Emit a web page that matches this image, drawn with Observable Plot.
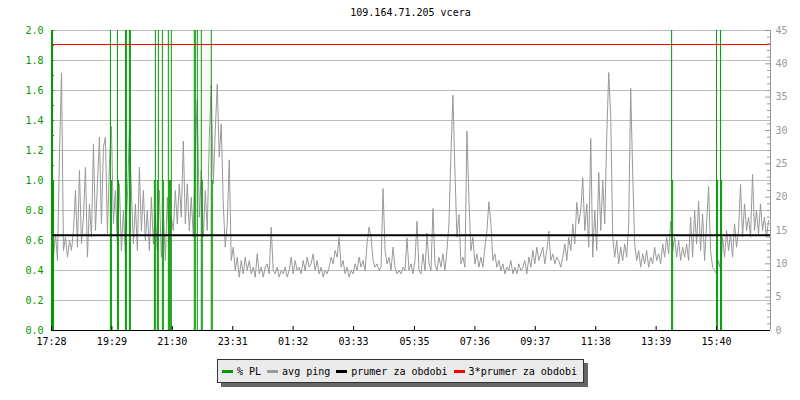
<!DOCTYPE html>
<html>
<head>
<meta charset="utf-8">
<script src="https://cdn.jsdelivr.net/npm/d3@7"></script>
<script src="https://cdn.jsdelivr.net/npm/@observablehq/plot@0.6"></script>
<style>
  html, body { margin: 0; padding: 0; background: #fff; }
  #wrap { position: relative; width: 800px; height: 400px; font-family: "DejaVu Sans Mono", monospace; font-size: 10px; }
  #title { position: absolute; left: 51px; width: 719px; top: 7px; text-align: center; line-height: 12px; color: #000; }
  #chart { position: absolute; left: 0; top: 0; }
  #legend { position: absolute; left: 217px; top: 359px; width: 361px; height: 22px; background: #ebebeb; border: 1px solid #333;
            box-shadow: 4px 4px 0 #666; display: flex; align-items: center; padding-left: 4px; box-sizing: content-box; }
  .item { display: flex; align-items: center; margin-right: 6px; white-space: pre; }
  .sw { width: 11px; height: 3px; margin-right: 4px; }
</style>
</head>
<body>
<div id="wrap">
  <div id="chart"></div>
  <div id="title"></div>
  <div id="legend"></div>
</div>
<script>
// ---- data ----
const titleText = "109.164.71.205 vcera";
const pingStart = "17:28";
const pingStepMinutes = 4;
const pingValues = [
  13, 11, 14.5, 10.5, 26.5, 38.6, 12, 14, 11, 13.5,
  12, 15, 21, 12.5, 24, 13, 17, 24.5, 11, 19,
  14, 28, 15, 22, 29, 16, 27.5, 29, 14.5, 25,
  30.6, 16, 21, 13, 22, 12, 18, 11.5, 20, 30,
  21, 13, 19, 12, 24.5, 15, 21, 13.5, 18, 12,
  20, 13, 17.5, 12, 21, 11, 18, 10.5, 20, 13,
  17, 15, 21, 16, 22, 17, 28.4, 16, 22, 15,
  20, 14, 27, 34.6, 17, 24, 14, 21, 15, 28.8,
  36.8, 22, 30, 37, 26, 31, 19, 12.5, 16, 25.6,
  10.5, 12.5, 9, 11, 8, 10.5, 8.5, 11, 9, 10.5,
  8.5, 9.5, 8, 11.5, 8.5, 9.5, 8, 9.5, 10, 8.5,
  15.5, 9, 8.5, 9.5, 8, 9, 8.5, 9.5, 8, 9,
  11, 8.5, 10.5, 9, 9.5, 8.5, 10.5, 9, 11, 9.5,
  10, 11.5, 9, 10.5, 8.5, 9.5, 8, 9, 8.5, 9.5,
  11, 10, 12, 11, 14, 9.5, 10.5, 8.5, 9.5, 8,
  9, 8.5, 10, 9, 11, 9.5, 10.5, 9, 13, 15.5,
  14, 10.5, 9.5, 10, 9, 9.5, 21.3, 12, 10, 11,
  9, 12.5, 9.5, 8.5, 9, 8.5, 9.5, 9, 13.9, 9,
  10, 8.5, 10.5, 16.4, 9, 8.5, 11.5, 9, 14.6, 10,
  9, 18.3, 10, 9, 11, 9.5, 11.5, 9, 12, 16,
  26.5, 35.3, 23.9, 14, 17.4, 10, 11, 9.5, 29.9, 19.7,
  12, 14, 10, 11.5, 9.5, 11, 9.5, 12.5, 15, 19.3,
  16, 10.5, 11.5, 9.5, 10.5, 9, 10, 8.5, 9.5, 9,
  10.5, 8.5, 9.5, 8.5, 10, 9, 9.5, 10.5, 8.5, 11,
  9.5, 12, 10, 12.5, 10.5, 11.5, 12.5, 10, 12, 14.9,
  10.5, 11.5, 10, 11, 10.5, 9.5, 11, 13, 10.5, 14,
  12, 16, 13, 19.2, 16, 18, 22.9, 15, 19, 12.5,
  28.8, 11, 18, 12, 23.7, 15, 22.5, 16, 29.1, 38.7,
  32, 14, 11, 13.5, 10, 12.5, 10.5, 13, 11, 16,
  36.3, 23.5, 13, 10.5, 12, 9.5, 11.5, 10, 12, 9.5,
  11, 10, 12.5, 10.5, 11.5, 10, 13, 11, 14, 11.5,
  16.4, 12, 14, 11, 13.5, 10.5, 12.5, 11, 13, 10.5,
  17, 11, 18, 13, 19.4, 12, 17.5, 10.5, 16, 21.6,
  12, 9.5, 9, 8.5, 10.5, 9, 14, 11, 15, 12,
  14.5, 11, 16, 12.5, 15, 21.9, 14, 19, 15, 17,
  14, 23.4, 15, 18, 14.5, 19, 15, 17, 14, 16.5
];
const plTimes = ["17:30","17:32","19:26","19:28","19:40","19:42","19:56","19:58","20:04","20:06",
                 "20:54","20:56","21:00","21:02","21:10","21:12","21:22","21:24","21:26","21:28",
                 "22:14","22:16","22:20","22:28","22:30","22:48","22:50",
                 "14:10","14:12","15:40","15:42","15:48","15:50"];
const plValues = [3, 1, 3, 1, 3, 1, 3, 3, 3, 3,
                  1, 3, 1, 3, 3, 1, 3, 1, 1, 3,
                  3, 3, 3, 3, 1, 3, 1,
                  3, 1, 3, 1, 3, 1];
const meanPing = 14.3;
const tickLabels = ["17:28","19:29","21:30","23:31","01:32","03:33","05:35","07:36","09:37","11:38","13:39","15:40"];
const leftTicks = [0, 0.2, 0.4, 0.6, 0.8, 1.0, 1.2, 1.4, 1.6, 1.8, 2.0];
const leftMinorTicks = [0.1, 0.3, 0.5, 0.7, 0.9, 1.1, 1.3, 1.5, 1.7, 1.9];
const rightTicks = [0, 5, 10, 15, 20, 25, 30, 35, 40, 45];
const rightMinorTicks = [1,2,3,4,6,7,8,9,11,12,13,14,16,17,18,19,21,22,23,24,26,27,28,29,31,32,33,34,36,37,38,39,41,42,43,44];
const legendItems = [
  {label: "% PL", color: "#009900"},
  {label: "avg ping", color: "#999999"},
  {label: "prumer za obdobi", color: "#000000"},
  {label: "3*prumer za obdobi", color: "#ff0000"}
];

// ---- helpers ----
const green = "#009900";
const grayAxis = "#999999";
const pingMax = 45, leftMax = 2;
const k = pingMax / leftMax; // ping units per left unit
const [sh, sm] = pingStart.split(":").map(Number);
const t0ms = Date.UTC(2024, 0, 1, sh, sm);
const t0 = new Date(t0ms);
const t1 = new Date(t0ms + 1440 * 60000);
function toDate(s) {
  const [h, m] = s.split(":").map(Number);
  let diff = h * 60 + m - (sh * 60 + sm);
  if (diff < 0) diff += 1440;
  return new Date(t0ms + diff * 60000);
}
const pingData = pingValues.map((v, i) => ({time: new Date(t0ms + i * pingStepMinutes * 60000), ping: v}));
const plData = plTimes.map((t, i) => ({time: toDate(t), pl: plValues[i]}));
const tickDates = tickLabels.map(toDate);
const labelMap = new Map(tickDates.map((d, i) => [+d, tickLabels[i]]));

const W = 800, H = 350, mL = 51, mR = 30, mT = 30, mB = 20;
const plotW = W - mL - mR, plotH = H - mT - mB;

const chart = Plot.plot({
  width: W, height: H,
  marginLeft: mL, marginRight: mR, marginTop: mT, marginBottom: mB,
  style: {fontFamily: "'DejaVu Sans Mono', monospace", fontSize: "10px", background: "transparent", overflow: "visible"},
  x: {type: "utc", domain: [t0, t1]},
  y: {domain: [0, leftMax]},
  marks: [
    Plot.ruleY(leftTicks.filter(d => d > 0), {stroke: "#bdbdbd"}),
    Plot.line(pingData, {x: "time", y: d => d.ping / k, stroke: "#999999", strokeWidth: 1}),
    Plot.ruleX(plData, {x: "time", y1: 0, y2: d => Math.min(d.pl, leftMax), stroke: green, strokeWidth: 1}),
    Plot.ruleY([meanPing / k], {stroke: "#000", strokeWidth: 2}),
    Plot.ruleY([3 * meanPing / k], {stroke: "#ff0000", strokeWidth: 1}),
    // left axis
    Plot.ruleX([t0], {stroke: green}),
    Plot.ruleY(leftMinorTicks.concat(leftTicks), {stroke: green, insetRight: plotW - 3}),
    Plot.axisY({anchor: "left", ticks: leftTicks, tickFormat: d3.format(".1f"), tickSize: 0, tickPadding: 8, fill: green, label: null}),
    // right axis
    Plot.ruleX([t1], {stroke: grayAxis}),
    Plot.ruleY(rightMinorTicks.map(v => v / k), {stroke: grayAxis, insetLeft: plotW - 3}),
    Plot.ruleY(rightTicks.map(v => v / k), {stroke: grayAxis, insetLeft: plotW - 5}),
    Plot.axisY({anchor: "right", ticks: rightTicks.map(v => v / k), tickFormat: d => String(Math.round(d * k)), tickSize: 0, tickPadding: 5, fill: grayAxis, label: null}),
    // bottom axis
    Plot.ruleY([0], {stroke: "#000"}),
    Plot.ruleX(tickDates, {stroke: "#000", insetTop: plotH - 4}),
    Plot.axisX({ticks: tickDates, tickFormat: d => labelMap.get(+d), tickSize: 0, tickPadding: 7, fill: "#000", label: null})
  ]
});
document.getElementById("chart").appendChild(chart);
document.getElementById("title").textContent = titleText;
const lg = document.getElementById("legend");
for (const it of legendItems) {
  const el = document.createElement("div");
  el.className = "item";
  const sw = document.createElement("div");
  sw.className = "sw";
  sw.style.background = it.color;
  const tx = document.createElement("span");
  tx.textContent = it.label;
  el.appendChild(sw); el.appendChild(tx);
  lg.appendChild(el);
}
</script>
</body>
</html>
